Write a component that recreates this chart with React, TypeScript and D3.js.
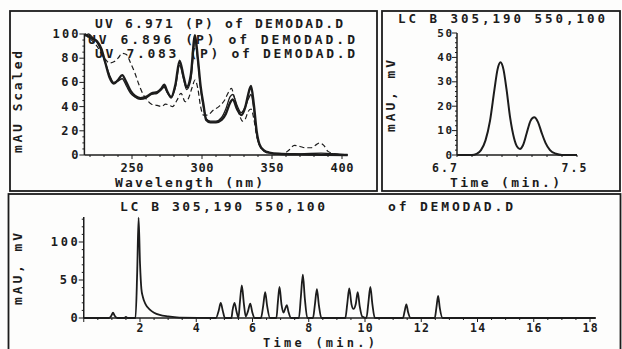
import React from 'react';
import * as d3 from 'd3';

// UV spectra (wavelength nm, mAU scaled)
const uvMain = [
  [216, 100], [219, 98], [222, 96], [225, 94], [228, 88], [231, 76], [234, 64], [237, 59],
  [240, 62], [243, 66], [246, 60], [249, 53], [252, 49], [256, 47], [260, 48], [264, 51],
  [268, 52], [271, 55], [273, 58], [275, 53], [278, 48], [281, 58], [284, 78], [287, 64],
  [289, 56], [292, 66], [295, 99], [297, 80], [299, 57], [301, 42], [303, 29], [306, 27],
  [310, 27], [314, 29], [317, 34], [320, 43], [322, 46], [325, 38], [328, 33], [331, 40],
  [333, 50], [335, 57], [337, 42], [339, 20], [341, 9], [344, 4], [348, 2], [355, 1],
  [370, 0.5], [404, 0],
];
const uvSecond = [
  [216, 98], [219, 100], [222, 97], [225, 93], [228, 86], [231, 76], [234, 66], [237, 60],
  [240, 61], [243, 63], [246, 57], [249, 51], [252, 48], [256, 46], [260, 47], [264, 50],
  [268, 51], [271, 54], [273, 56], [275, 52], [278, 47], [281, 56], [284, 74], [287, 62],
  [289, 54], [292, 62], [295, 94], [297, 78], [299, 55], [301, 40], [303, 30], [306, 28],
  [310, 28], [314, 31], [317, 38], [320, 48], [322, 50], [325, 41], [328, 35], [331, 40],
  [333, 46], [335, 50], [337, 38], [339, 18], [341, 8], [344, 4], [348, 2], [355, 1],
  [370, 1], [385, 1.5], [404, 0],
];
const uvThird = [
  [216, 100], [219, 97], [222, 94], [225, 90], [228, 84], [231, 79], [234, 76], [237, 77],
  [240, 80], [243, 84], [246, 83], [249, 76], [252, 68], [255, 58], [258, 50], [261, 45],
  [264, 42], [268, 41], [271, 40], [274, 42], [277, 41], [279, 40], [282, 45], [285, 51],
  [288, 44], [290, 46], [293, 56], [295, 62], [297, 55], [299, 40], [301, 33], [304, 33],
  [308, 37], [312, 40], [316, 45], [319, 52], [321, 55], [323, 48], [326, 36], [329, 28],
  [331, 30], [333, 36], [335, 38], [337, 30], [339, 16], [342, 6], [346, 2], [352, 1],
  [358, 1], [362, 4], [366, 8], [370, 7], [374, 6], [378, 6], [381, 8], [384, 10],
  [387, 8], [390, 3], [395, 1], [404, 0],
];
const uvTitles = ['UV 6.971 (P) of DEMODAD.D', 'UV 6.896 (P) of DEMODAD.D', 'UV 7.083 (P) of DEMODAD.D'];
const uvXTicks = [250, 300, 350, 400];
const uvYTicks = [0, 20, 40, 60, 80, 100];

// Zoomed LC signal (min, mAU)
const lcZoom = [
  [6.7, 0], [6.8, 0], [6.83, 0.5], [6.86, 2], [6.89, 6], [6.92, 14], [6.95, 27], [6.97, 35],
  [6.99, 38], [7.01, 35], [7.03, 27], [7.055, 15], [7.08, 7], [7.1, 3.5], [7.12, 2.5],
  [7.14, 4], [7.165, 9], [7.19, 14], [7.215, 15.5], [7.24, 13.5], [7.265, 9], [7.29, 5],
  [7.32, 2], [7.36, 0.5], [7.4, 0], [7.5, 0],
];
const lcZoomXTicks = [6.7, 7.5];
const lcZoomYTicks = [0, 10, 20, 30, 40, 50];

// Full chromatogram (min, mAU)
const chrom = [
  [0, 0], [0.9, 0], [0.98, 3], [1.04, 7], [1.1, 3], [1.2, 0], [1.45, 0], [1.5, 1.5], [1.55, 0],
  [1.84, 0], [1.9, 60], [1.95, 132], [2.0, 72], [2.05, 38], [2.1, 28], [2.2, 18], [2.35, 11],
  [2.5, 7], [2.7, 4], [3.0, 2], [3.4, 0.5], [4.7, 0],
  [4.8, 10], [4.87, 20], [4.94, 10], [5.02, 0],
  [5.25, 0], [5.29, 10], [5.36, 20], [5.43, 9], [5.5, 0],
  [5.55, 20], [5.62, 43], [5.69, 20], [5.76, 2], [5.84, 9], [5.92, 19], [5.99, 8], [6.08, 0],
  [6.3, 0], [6.38, 16], [6.45, 34], [6.52, 16], [6.62, 0],
  [6.85, 0], [6.9, 20], [6.96, 41], [7.03, 18], [7.1, 7], [7.16, 12], [7.22, 17], [7.28, 8], [7.37, 0],
  [7.65, 0], [7.72, 28], [7.79, 57], [7.86, 26], [7.95, 0],
  [8.15, 0], [8.22, 18], [8.29, 38], [8.36, 17], [8.45, 0],
  [9.3, 0], [9.37, 19], [9.44, 39], [9.52, 18], [9.59, 12], [9.67, 18], [9.74, 34], [9.81, 16],
  [9.9, 2], [10.05, 0], [10.12, 20], [10.19, 41], [10.26, 19], [10.35, 0],
  [11.35, 0], [11.41, 9], [11.47, 18], [11.53, 8], [11.62, 0],
  [12.48, 0], [12.54, 14], [12.6, 29], [12.66, 13], [12.76, 0],
  [18.2, 0],
];
const chromXTicks = [2, 4, 6, 8, 10, 12, 14, 16, 18];
const chromYTicks = [0, 50, 100];

const INK = '#1c1c1c';
const FONT = '"DejaVu Sans Mono", monospace';

function Label({ x, y, text, len, size = 13, anchor = 'start', rotate = false }) {
  return (
    <text
      x={rotate ? 0 : x}
      y={rotate ? 0 : y}
      transform={rotate ? `translate(${x},${y}) rotate(-90)` : undefined}
      textAnchor={anchor}
      fontFamily={FONT}
      fontWeight="bold"
      fontSize={size}
      fill={INK}
      textLength={len}
      lengthAdjust="spacing"
    >
      {text}
    </text>
  );
}

function App() {
  // top left panel: spectra
  const uvX = d3.scaleLinear().domain([250, 400]).range([132, 342]);
  const uvY = d3.scaleLinear().domain([0, 100]).range([155, 34]);
  const uvLine = d3.line().x(d => uvX(d[0])).y(d => uvY(d[1])).curve(d3.curveMonotoneX);

  // top right panel: zoomed peaks
  const lzX = d3.scaleLinear().domain([6.7, 7.5]).range([457, 577]);
  const lzY = d3.scaleLinear().domain([0, 50]).range([155, 33]);
  const lzLine = d3.line().x(d => lzX(d[0])).y(d => lzY(d[1])).curve(d3.curveMonotoneX);

  // bottom panel: chromatogram
  const chX = d3.scaleLinear().domain([2, 18]).range([140, 590]);
  const chY = d3.scaleLinear().domain([0, 100]).range([318, 242]);
  const chLine = d3.line().x(d => chX(d[0])).y(d => chY(d[1])).curve(d3.curveMonotoneX);

  const uvMinorX = d3.range(220, 401, 10);
  const uvMinorY = d3.range(0, 101, 5);
  const lzMinorX = d3.range(6.7, 7.51, 0.1);
  const lzMinorY = d3.range(0, 51, 2);
  const chMinorX = d3.range(0, 18.1, 0.5);
  const chMinorY = d3.range(0, 131, 10);

  const ax = { stroke: INK, strokeWidth: 1.5, fill: 'none' };
  const tk = { stroke: INK, strokeWidth: 1 };

  return (
    <div style={{ position: 'fixed', left: 0, top: 0 }}>
      <svg width={622} height={349} style={{ display: 'block', background: '#fdfdfc' }}>
        {/* panel frames */}
        <rect x={10} y={11} width={367} height={180} {...ax} strokeWidth={1.8} />
        <rect x={382} y={11} width={238} height={180} {...ax} strokeWidth={1.8} />
        <rect x={8.5} y={194} width={612} height={160} {...ax} strokeWidth={1.8} />

        {/* ---------- spectra panel ---------- */}
        <Label x={95} y={28} text={uvTitles[0]} len={248} />
        <Label x={88} y={44} text={uvTitles[1]} len={267} />
        <Label x={95} y={58} text={uvTitles[2]} len={260} />
        <line x1={uvX(216)} x2={uvX(404)} y1={uvY(0)} y2={uvY(0)} {...ax} />
        <line x1={uvX(216)} x2={uvX(216)} y1={uvY(0)} y2={uvY(100)} {...ax} />
        {uvMinorX.map(v => (
          <line key={'ux' + v} x1={uvX(v)} x2={uvX(v)} y1={uvY(0)} y2={uvY(0) + (v % 50 === 0 ? 4 : 2)} {...tk} />
        ))}
        {uvMinorY.map(v => (
          <line key={'uy' + v} x1={uvX(216)} x2={uvX(216) - (v % 20 === 0 ? 5 : 2)} y1={uvY(v)} y2={uvY(v)} {...tk} />
        ))}
        {uvXTicks.map(v => (
          <Label key={'uxl' + v} x={uvX(v)} y={172} text={String(v)} size={12} len={String(v).length * 7.6} anchor="middle" />
        ))}
        {uvYTicks.map(v => (
          <Label key={'uyl' + v} x={uvX(216) - 6} y={uvY(v) + 4} text={String(v)} size={12} len={String(v).length * 8.6} anchor="end" />
        ))}
        <Label x={189} y={187} text="Wavelength (nm)" len={148} anchor="middle" />
        <Label x={22} y={102} text="mAU Scaled" len={102} anchor="middle" rotate />
        <path d={uvLine(uvThird)} stroke={INK} strokeWidth={1.2} fill="none" strokeDasharray="5,3" />
        <path d={uvLine(uvSecond)} stroke={INK} strokeWidth={1.3} fill="none" />
        <path d={uvLine(uvMain)} stroke={INK} strokeWidth={2.4} fill="none" />

        {/* ---------- zoomed LC panel ---------- */}
        <Label x={398} y={23} size={12.5} text="LC B 305,190 550,100" len={207} />
        <line x1={lzX(6.7)} x2={lzX(7.5)} y1={lzY(0)} y2={lzY(0)} {...ax} />
        <line x1={lzX(6.7)} x2={lzX(6.7)} y1={lzY(0)} y2={lzY(50)} {...ax} />
        {lzMinorX.map(v => (
          <line key={'lx' + v} x1={lzX(v)} x2={lzX(v)} y1={lzY(0)} y2={lzY(0) + 2} {...tk} />
        ))}
        {lzMinorY.map(v => (
          <line key={'ly' + v} x1={lzX(6.7)} x2={lzX(6.7) - (v % 10 === 0 ? 5 : 2)} y1={lzY(v)} y2={lzY(v)} {...tk} />
        ))}
        {lcZoomXTicks.map((v, i) => (
          <Label key={'lxl' + v} x={lzX(v) + (i === 0 ? 0 : -3)} y={172} text={v.toFixed(1)} size={11.5} len={25} anchor={i === 0 ? 'end' : 'middle'} />
        ))}
        {lcZoomYTicks.map(v => (
          <Label key={'lyl' + v} x={lzX(6.7) - 5} y={lzY(v) + 3.5} text={String(v)} size={11} len={String(v).length * 7.4} anchor="end" />
        ))}
        <Label x={505} y={187} text="Time (min.)" len={110} anchor="middle" />
        <Label x={395} y={96} text="mAU, mV" len={72} anchor="middle" rotate />
        <path d={lzLine(lcZoom)} stroke={INK} strokeWidth={2} fill="none" />

        {/* ---------- chromatogram panel ---------- */}
        <Label x={120} y={211} text="LC B 305,190 550,100" len={205} />
        <Label x={388} y={211} text="of DEMODAD.D" len={125} />
        <line x1={chX(0)} x2={chX(18.2)} y1={chY(0)} y2={chY(0)} {...ax} />
        <line x1={chX(0)} x2={chX(0)} y1={chY(0)} y2={chY(133)} {...ax} />
        {chMinorX.map(v => (
          <line key={'cx' + v} x1={chX(v)} x2={chX(v)} y1={chY(0)} y2={chY(0) + (v % 2 === 0 ? 4 : 2)} {...tk} />
        ))}
        {chMinorY.map(v => (
          <line key={'cy' + v} x1={chX(0)} x2={chX(0) - (v % 50 === 0 ? 5 : 2)} y1={chY(v)} y2={chY(v)} {...tk} />
        ))}
        {chromXTicks.map(v => (
          <Label key={'cxl' + v} x={chX(v)} y={331.5} text={String(v)} size={11.5} len={String(v).length * 7.6} anchor="middle" />
        ))}
        {chromYTicks.map(v => (
          <Label key={'cyl' + v} x={chX(0) - 6} y={chY(v) + 4} text={String(v)} size={12} len={String(v).length * 9} anchor="end" />
        ))}
        <Label x={319} y={346.5} text="Time (min.)" size={12} len={112} anchor="middle" />
        <Label x={22} y={269} text="mAU, mV" len={72} anchor="middle" rotate />
        <path d={chLine(chrom)} stroke={INK} strokeWidth={1.8} fill="none" />
      </svg>
    </div>
  );
}

export default App;
